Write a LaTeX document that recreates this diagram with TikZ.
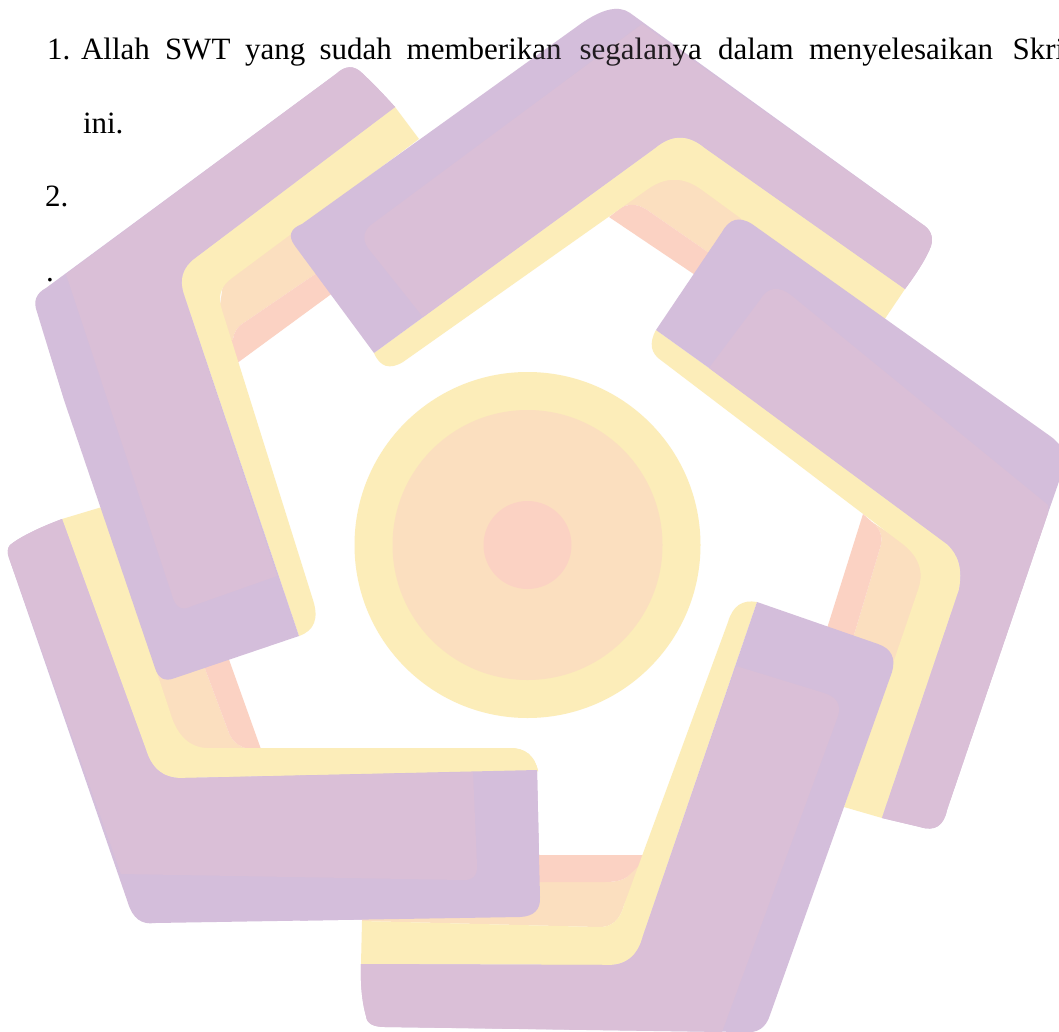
\documentclass[tikz,border=0pt]{standalone}
\usepackage{fontspec}
\usetikzlibrary{calc}
\setmainfont{Liberation Serif}
\definecolor{logodark}{HTML}{D4BEDB}
\definecolor{logolight}{HTML}{DABFD7}
\definecolor{logoyellow}{HTML}{FCEDB9}
\definecolor{logopeach}{HTML}{FBDFBF}
\definecolor{logosalmon}{HTML}{FBD2C3}
\tikzset{
  fillDark/.style={fill=logodark},
  fillLight/.style={fill=logolight},
  fillYellow/.style={fill=logoyellow},
  fillPeach/.style={fill=logopeach},
  fillSalmon/.style={fill=logosalmon},
  bodytext/.style={anchor=base west,inner sep=0pt,outer sep=0pt,text=black,font=\fontsize{31}{31}\selectfont}
}
% quadratic corner: from #1 towards #3 with the corner point #2
\newcommand{\ctn}[3]{.. controls ($(#1)!0.667!(#2)$) and ($(#3)!0.667!(#2)$) .. (#3)}
% Arm A (upper left)
\def\armAdark{(46,288) -- (336,74) \ctn{336,74}{350,61}{362,73} \ctn{362,73}{378,88}{395,107} -- (195,258) \ctn{195,258}{176,272}{184,295} -- (299,636) -- (175,678) \ctn{175,678}{160,684}{155,668} -- (64,400) \ctn{64,400}{44,335}{37,312} \ctn{37,312}{31,296}{46,288} -- cycle}
\def\armAlight{(66,274) -- (172,595) \ctn{172,595}{177,614}{192,606} -- (277,576) -- (184,295) \ctn{184,295}{176,272}{195,258} -- (395,107) \ctn{395,107}{378,88}{362,73} \ctn{362,73}{350,61}{336,74} -- cycle}
\def\armAyellow{(395,107) -- (419,139) -- (232,278) \ctn{232,278}{215,290}{222,310} -- (313,600) \ctn{313,600}{322,628}{299,636} -- (184,295) \ctn{184,295}{176,272}{195,258} -- cycle}
\def\armApeach{(225,270) -- (320,205) -- (330,264) -- (245,322) \ctn{245,322}{234,328}{233,340} -- (215,340) -- cycle}
\def\armAsalmon{(220,340) -- (233,340) \ctn{233,340}{234,328}{245,322} -- (330,264) -- (345,284) -- (225,372) -- cycle}
% Arm B (top)
\def\armBdark{(374,353) -- (295,246) \ctn{295,246}{284,231}{302,224} -- (575,28) \ctn{575,28}{612,0}{630,13} -- (922,224) \ctn{922,224}{935,232}{931,246} \ctn{931,246}{925,262}{905,289} -- (705,148) \ctn{705,148}{680,127}{655,148} -- cycle}
\def\armBlight{(642,24) -- (375,222) \ctn{375,222}{358,233}{368,248} -- (423,317) -- (655,148) \ctn{655,148}{680,127}{705,148} -- (905,289) \ctn{905,289}{925,262}{931,246} \ctn{931,246}{935,232}{922,224} -- cycle}
\def\armByellow{(374,353) \ctn{374,353}{383,374}{403,362} -- (648,189) \ctn{648,189}{675,170}{702,190} -- (739,217) -- (860,320) -- (878,329) -- (905,289) -- (705,148) \ctn{705,148}{680,127}{655,148} -- cycle}
\def\armBpeach{(620,200) -- (650,178) -- (676,165) -- (704,180) -- (755,216) -- (725,264) -- (650,212) \ctn{650,212}{636,201}{622,207} -- cycle}
\def\armBsalmon{(609,217) -- (622,207) \ctn{622,207}{636,201}{650,212} -- (725,264) -- (710,285) -- cycle}
% Arm C (right)
\def\armCdark{(656,330) -- (722,232) \ctn{722,232}{733,212}{752,224} -- (1050,436) \ctn{1050,436}{1070,450}{1063,470} -- (1048,513) -- (947,810) \ctn{947,810}{942,834}{920,827} -- (882,818) -- (959,590) \ctn{959,590}{965,560}{947,544} -- (709,368) -- cycle}
\def\armClight{(709,368) -- (760,300) \ctn{760,300}{772,280}{792,296} -- (1048,505) -- (1048,513) -- (947,810) \ctn{947,810}{942,834}{920,827} -- (882,818) -- (959,590) \ctn{959,590}{965,560}{947,544} -- cycle}
\def\armCyellow{(656,330) \ctn{656,330}{645,350}{662,361} -- (900,542) \ctn{900,542}{928,562}{918,590} -- (844,807) -- (882,818) -- (959,590) \ctn{959,590}{965,560}{947,544} -- (709,368) -- cycle}
\def\armCpeach{(872,522) -- (930,560) -- (895,690) -- (845,665) -- (880,548) \ctn{880,548}{885,532}{872,522} -- cycle}
\def\armCsalmon{(863,514) -- (872,522) \ctn{872,522}{885,532}{880,548} -- (845,665) -- (818,657) -- cycle}
% Arm D (bottom)
\def\armDdark{(361,964) -- (605,965) \ctn{605,965}{635,967}{643,936} -- (757,602) -- (878,644) \ctn{878,644}{898,651}{892,672} -- (770,1015) \ctn{770,1015}{764,1034}{745,1032} -- (385,1027) \ctn{385,1027}{367,1027}{366,1016} \ctn{366,1016}{360,995}{361,964} -- cycle}
\def\armDlight{(736,666) -- (824,693) \ctn{824,693}{843,699}{838,716} -- (722,1032) -- (385,1027) \ctn{385,1027}{367,1027}{366,1016} \ctn{366,1016}{360,995}{361,964} -- (605,965) \ctn{605,965}{635,967}{643,936} -- cycle}
\def\armDyellow{(362,921) -- (598,927) \ctn{598,927}{618,928}{624,905} -- (728,622) \ctn{728,622}{735,598}{757,602} -- (643,936) \ctn{643,936}{635,967}{605,965} -- (361,964) -- cycle}
\def\armDpeach{(362,921) -- (598,927) \ctn{598,927}{618,928}{624,905} -- (650,850) -- (627,877) \ctn{627,877}{620,882}{605,882} -- (450,882) -- (362,885) -- cycle}
\def\armDsalmon{(500,855) -- (650,855) -- (627,877) \ctn{627,877}{620,882}{605,882} -- (500,882) -- cycle}
% Arm E (lower left)
\def\armEdark{(62,519) \ctn{62,519}{25,533}{10,545} \ctn{10,545}{6,550}{9,558} -- (128,903) \ctn{128,903}{135,926}{155,923} -- (520,917) \ctn{520,917}{541,916}{540,897} -- (537,770) -- (185,778) \ctn{185,778}{155,780}{146,750} -- cycle}
\def\armElight{(62,519) \ctn{62,519}{25,533}{10,545} \ctn{10,545}{6,550}{9,558} -- (121,874) -- (462,880) \ctn{462,880}{478,881}{477,865} -- (473,772) -- (185,778) \ctn{185,778}{155,780}{146,750} -- cycle}
\def\armEyellow{(62,519) -- (102,507) -- (170,712) \ctn{170,712}{181,750}{212,748} -- (510,748) \ctn{510,748}{533,748}{538,771} -- (185,778) \ctn{185,778}{155,780}{146,750} -- cycle}
\def\armEpeach{(145,640) -- (160,725) -- (175,760) -- (205,765) -- (255,755) -- (255,750) \ctn{255,750}{235,748}{229,733} -- (198,650) -- cycle}
\def\armEsalmon{(198,650) -- (222,640) -- (262,752) -- (255,750) \ctn{255,750}{235,748}{229,733} -- cycle}
\newcommand{\drawArm}[5]{%
  \path[fillPeach] #4; \path[fillSalmon] #5; \path[fillYellow] #3;
  \path[fillDark] #1; \path[fillLight] #2;}
\begin{document}
\begin{tikzpicture}[x=1pt,y=-1pt]
\clip (0,0) rectangle (1059,1032);
\fill[white] (0,0) rectangle (1059,1032);
% centre disc
\path[fillYellow] (527.5,545) circle (173);
\path[fillPeach] (527.5,545) circle (135);
\path[fillSalmon] (527.5,545) circle (44);
% arms, each lying on the tail of the one before
\drawArm{\armEdark}{\armElight}{\armEyellow}{\armEpeach}{\armEsalmon}
\drawArm{\armAdark}{\armAlight}{\armAyellow}{\armApeach}{\armAsalmon}
\drawArm{\armBdark}{\armBlight}{\armByellow}{\armBpeach}{\armBsalmon}
\drawArm{\armCdark}{\armClight}{\armCyellow}{\armCpeach}{\armCsalmon}
\drawArm{\armDdark}{\armDlight}{\armDyellow}{\armDpeach}{\armDsalmon}
% head of arm E closes the ring over arm D
\begin{scope}
\clip (300,700) rectangle (600,1032);
\drawArm{\armEdark}{\armElight}{\armEyellow}{\armEpeach}{\armEsalmon}
\end{scope}
% text
\node[bodytext] (n1) at (47,60) {1.};
\node[bodytext] (w1) at (81,60) {Allah};
\node[bodytext] (w2) at (165,60) {SWT};
\node[bodytext] (w3) at (245,60) {yang};
\node[bodytext] (w4) at (319.5,60) {sudah};
\node[bodytext] (w5) at (406.7,60) {memberikan};
\node[bodytext] (w6) at (579.6,60) {segalanya};
\node[bodytext] (w7) at (718,60) {dalam};
\node[bodytext] (w8) at (809,60) {menyelesaikan};
\node[bodytext] (w9) at (1012.5,60) {Skri};
\node[bodytext] (l2) at (83,133.5) {ini.};
\node[bodytext] (n2) at (45,207) {2.};
\node[bodytext] (d) at (46,281.5) {.};
% faint tint of the logo over the words it covers
\begin{scope}
\clip (500,0) -- (650,0) -- (642,24) -- (500,128) -- cycle;
\path[fillDark,opacity=0.15] \armBdark;
\end{scope}
\begin{scope}
\clip (500,128) -- (642,24) -- (800,0) -- (800,80) -- (500,80) -- cycle;
\path[fillLight,opacity=0.15] \armBlight;
\end{scope}
\end{tikzpicture}
\end{document}
